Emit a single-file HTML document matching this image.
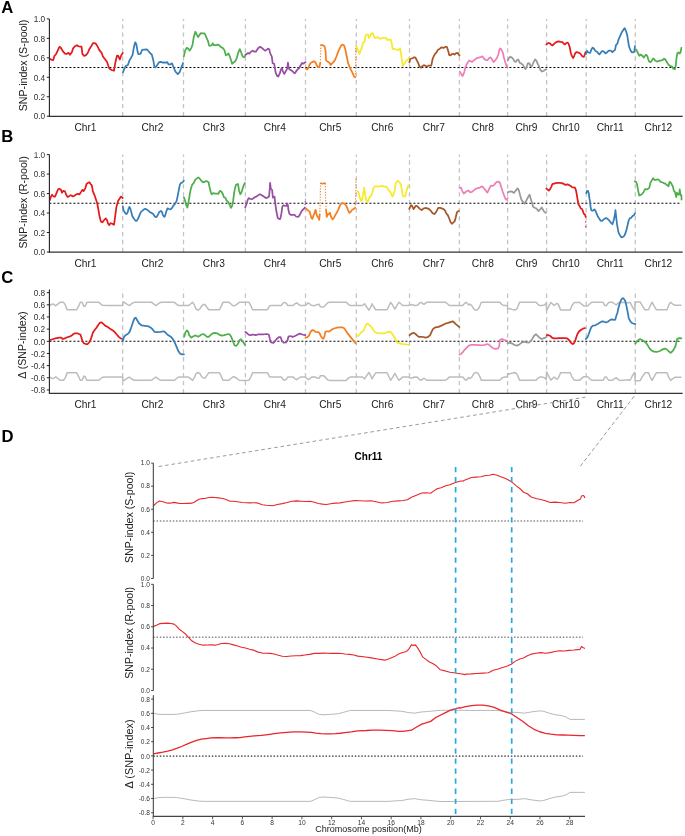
<!DOCTYPE html><html><head><meta charset="utf-8"><style>html,body{margin:0;padding:0;background:#fff;}svg{display:block;will-change:transform;}</style></head><body>
<svg width="685" height="836" viewBox="0 0 685 836" font-family='"Liberation Sans", sans-serif'>
<rect width="685" height="836" fill="#fff"/>
<line x1="122.7" y1="116.3" x2="122.7" y2="18.9" stroke="#C4C4C4" stroke-width="1.3" stroke-dasharray="4.4,3.55"/>
<line x1="183.5" y1="116.3" x2="183.5" y2="18.9" stroke="#C4C4C4" stroke-width="1.3" stroke-dasharray="4.4,3.55"/>
<line x1="245.4" y1="116.3" x2="245.4" y2="18.9" stroke="#C4C4C4" stroke-width="1.3" stroke-dasharray="4.4,3.55"/>
<line x1="305.5" y1="116.3" x2="305.5" y2="18.9" stroke="#C4C4C4" stroke-width="1.3" stroke-dasharray="4.4,3.55"/>
<line x1="356.3" y1="116.3" x2="356.3" y2="18.9" stroke="#C4C4C4" stroke-width="1.3" stroke-dasharray="4.4,3.55"/>
<line x1="409.5" y1="116.3" x2="409.5" y2="18.9" stroke="#C4C4C4" stroke-width="1.3" stroke-dasharray="4.4,3.55"/>
<line x1="459.4" y1="116.3" x2="459.4" y2="18.9" stroke="#C4C4C4" stroke-width="1.3" stroke-dasharray="4.4,3.55"/>
<line x1="507.6" y1="116.3" x2="507.6" y2="18.9" stroke="#C4C4C4" stroke-width="1.3" stroke-dasharray="4.4,3.55"/>
<line x1="546.6" y1="116.3" x2="546.6" y2="18.9" stroke="#C4C4C4" stroke-width="1.3" stroke-dasharray="4.4,3.55"/>
<line x1="586.2" y1="116.3" x2="586.2" y2="18.9" stroke="#C4C4C4" stroke-width="1.3" stroke-dasharray="4.4,3.55"/>
<line x1="635.3" y1="116.3" x2="635.3" y2="18.9" stroke="#C4C4C4" stroke-width="1.3" stroke-dasharray="4.4,3.55"/>
<line x1="49.4" y1="67.55" x2="681.5" y2="67.55" stroke="#000" stroke-width="1.1" stroke-dasharray="2,2"/>
<polyline points="49.75,58.87 51.50,59.80 53.26,60.04 54.42,55.95 56.18,53.96 57.93,50.11 59.45,46.84 60.85,47.77 62.60,50.93 64.93,53.61 66.69,53.96 68.44,52.80 69.96,54.78 71.94,52.09 73.11,48.36 74.86,46.26 76.96,45.20 78.36,46.26 80.12,46.61 81.52,46.61 82.45,54.20 84.20,55.95 85.96,55.13 87.71,53.03 89.46,48.94 91.21,46.26 92.96,43.10 94.72,43.10 95.88,43.69 97.64,46.61 99.39,50.11 101.72,53.03 102.89,56.53 105.23,59.45 106.98,61.79 108.15,65.29 109.31,68.45 111.65,69.96 113.99,70.78 115.15,63.54 116.91,55.95 118.07,55.60 119.82,59.45 120.99,55.95 122.74,52.80" fill="none" stroke="#E41A1C" stroke-width="1.75" stroke-linejoin="round" stroke-linecap="round"/>
<polyline points="122.92,72.30 124.09,69.38 125.84,66.11 127.94,64.94 129.34,60.62 131.09,57.70 132.61,54.78 133.78,47.77 135.18,42.28 136.35,44.27 137.52,51.28 138.45,54.20 140.44,53.96 142.19,49.76 144.53,49.53 146.86,49.29 148.61,51.28 150.13,53.26 151.77,54.43 153.28,60.04 154.45,67.04 155.62,67.28 157.37,64.71 159.12,62.14 160.88,61.79 162.63,62.61 164.38,62.37 166.13,62.61 167.30,62.14 168.47,64.47 170.22,64.47 171.97,63.31 173.72,67.63 175.47,71.72 177.81,74.05 179.56,72.30 181.31,67.63 183.07,62.96" fill="none" stroke="#377EB8" stroke-width="1.75" stroke-linejoin="round" stroke-linecap="round"/>
<polyline points="183.88,56.28 185.11,50.66 186.64,47.80 188.18,48.61 189.71,50.66 191.24,48.10 192.47,45.04 193.80,36.86 195.33,31.75 196.86,34.82 198.19,37.17 199.42,34.82 200.95,33.08 202.69,33.49 204.53,33.28 205.55,35.33 206.77,38.39 208.10,41.46 209.12,45.55 210.66,45.75 211.88,45.04 212.70,43.30 213.72,45.04 215.77,45.04 217.81,44.53 219.34,45.34 220.88,47.08 222.92,48.10 224.45,50.15 225.78,55.26 227.01,54.74 228.54,53.52 229.56,55.77 230.89,59.85 232.12,63.74 233.65,62.41 235.18,61.39 236.72,58.32 238.25,52.70 239.78,49.12 241.11,52.19 242.54,56.28 243.87,57.30 244.89,56.28" fill="none" stroke="#4DAF4A" stroke-width="1.75" stroke-linejoin="round" stroke-linecap="round"/>
<polyline points="245.25,55.04 246.58,54.01 248.11,52.99 249.34,53.71 250.66,51.97 252.71,50.64 254.24,51.66 255.77,51.66 257.31,49.42 258.84,47.58 260.17,46.86 261.91,47.88 263.44,49.42 264.97,50.64 266.50,49.93 268.04,48.60 269.36,49.42 269.77,51.97 270.59,54.01 271.82,56.57 272.64,63.21 274.17,63.72 274.88,67.81 275.70,72.92 277.23,75.99 278.26,76.50 279.79,73.43 280.81,69.85 281.83,68.01 282.85,71.39 284.39,73.94 285.92,70.88 287.15,68.83 287.96,62.70 288.78,68.32 290.21,69.85 292.05,70.88 293.58,72.41 294.61,73.43 296.14,71.39 297.67,69.34 299.20,68.01 300.74,65.26 302.07,62.91 303.29,63.72 304.82,62.50 305.54,62.19" fill="none" stroke="#984EA3" stroke-width="1.75" stroke-linejoin="round" stroke-linecap="round"/>
<polyline points="305.93,68.54 307.15,69.56 308.38,68.03 309.40,64.96 310.73,62.92 312.26,62.10 313.80,61.39 315.33,62.10 316.35,64.45 317.88,67.01 319.42,67.21 320.23,62.92" fill="none" stroke="#F47F20" stroke-width="1.75" stroke-linejoin="round" stroke-linecap="round"/>
<polyline points="320.95,45.04 322.48,45.04 324.53,46.36 325.55,50.66 326.06,60.36 327.39,61.39 329.12,62.41 330.66,64.96 332.70,62.92 334.74,60.36 336.28,56.79 337.81,52.70 339.34,49.12 340.88,46.06 342.10,44.53 343.94,45.34 345.17,48.61 346.50,55.26 348.03,62.92 349.56,67.01 351.09,70.07 352.63,73.14 354.16,76.72 355.18,77.23" fill="none" stroke="#F47F20" stroke-width="1.75" stroke-linejoin="round" stroke-linecap="round"/>
<polyline points="320.23,62.92 320.64,53.72 320.95,45.04" fill="none" stroke="#F47F20" stroke-width="1.1" stroke-dasharray="1.2,1.6"/>
<polyline points="355.18,77.23 355.69,69.05 355.69,58.83 355.69,45.55" fill="none" stroke="#F47F20" stroke-width="1.1" stroke-dasharray="1.2,1.6"/>
<polyline points="356.31,46.09 357.63,49.16 359.38,53.98 360.69,50.47 362.01,47.41 362.88,43.03 364.64,41.72 365.51,35.58 366.39,34.45 368.14,34.71 369.01,37.95 370.33,36.02 371.20,33.83 372.52,32.96 373.39,34.71 374.45,37.77 375.58,38.21 377.34,36.90 379.09,38.21 380.84,38.82 382.15,37.95 383.91,37.95 386.09,37.95 387.41,40.23 388.72,39.53 390.91,39.96 391.79,43.91 392.66,49.16 394.42,48.72 396.61,49.60 398.36,50.04 400.11,48.28 400.99,53.54 401.86,59.67 402.74,65.80 404.05,64.05 405.36,62.30 406.68,60.11 407.99,59.67 408.87,57.92" fill="none" stroke="#F6EA2C" stroke-width="1.75" stroke-linejoin="round" stroke-linecap="round"/>
<polyline points="409.38,62.48 410.26,58.98 411.57,58.54 412.88,58.10 414.20,57.23 415.51,57.66 416.82,60.29 418.14,62.92 419.45,66.42 421.20,67.74 422.52,65.99 424.27,65.11 425.58,65.99 426.90,66.42 428.21,65.72 429.96,65.55 431.28,65.55 432.59,58.98 433.91,55.91 435.22,53.72 436.53,52.41 437.85,49.78 439.60,48.91 441.35,47.33 443.54,47.85 445.73,46.72 447.04,47.15 448.36,51.53 449.23,55.04 450.55,55.47 451.86,54.16 453.18,53.72 454.49,54.60 455.80,53.28 457.55,52.85 458.87,54.60 459.48,55.47" fill="none" stroke="#A65628" stroke-width="1.75" stroke-linejoin="round" stroke-linecap="round"/>
<polyline points="459.82,71.61 461.13,73.80 462.45,75.99 463.32,74.67 464.46,71.17 465.51,66.79 466.82,64.16 468.14,61.97 469.19,60.48 470.33,61.09 472.08,61.97 473.39,60.66 475.15,59.34 476.90,58.03 478.65,57.59 480.40,57.15 482.59,56.45 483.91,58.47 485.66,59.96 487.41,60.22 488.72,58.47 490.04,57.33 491.35,58.20 492.66,60.66 493.72,61.97 495.29,60.22 496.87,58.03 498.36,54.53 499.23,50.15 500.11,48.39 501.42,49.71 502.74,52.34 504.05,58.03 505.36,62.41 506.68,66.79" fill="none" stroke="#EE7EB9" stroke-width="1.75" stroke-linejoin="round" stroke-linecap="round"/>
<polyline points="507.71,60.58 508.76,58.39 510.34,56.64 511.82,57.52 513.14,58.83 514.45,61.46 515.77,61.90 517.08,59.97 518.39,59.71 519.71,62.77 521.46,63.65 522.95,64.96 524.53,68.20 525.58,69.08 526.72,66.28 528.03,63.21 529.34,63.47 530.66,66.28 531.97,65.84 533.72,61.90 535.04,59.45 536.35,60.58 537.66,63.65 539.24,66.72 540.29,69.78 542.04,71.53 543.80,70.66 545.11,69.78 546.25,69.34" fill="none" stroke="#999999" stroke-width="1.75" stroke-linejoin="round" stroke-linecap="round"/>
<polyline points="546.31,44.45 547.45,43.57 548.76,42.96 550.07,43.39 551.39,44.97 552.70,45.32 554.01,43.83 555.77,42.34 557.52,41.64 558.83,41.47 560.58,41.82 562.34,42.08 563.47,43.57 564.96,44.45 566.28,42.96 567.59,42.52 568.47,43.57 569.78,47.34 570.66,52.15 571.71,55.66 573.11,58.11 574.16,56.09 575.04,53.47 576.35,52.15 577.66,52.33 579.85,53.20 581.17,54.78 582.48,56.53 583.80,56.97 584.67,54.78 585.55,52.15" fill="none" stroke="#E41A1C" stroke-width="1.75" stroke-linejoin="round" stroke-linecap="round"/>
<polyline points="585.96,53.98 587.01,50.91 588.32,52.49 590.07,52.84 591.39,49.60 592.70,47.58 594.01,48.72 595.33,50.91 597.08,51.79 598.39,53.54 599.45,54.42 601.02,52.23 602.60,50.91 604.09,51.79 605.40,53.36 606.72,52.66 608.47,50.91 609.78,50.47 611.09,50.91 612.41,52.23 613.72,50.91 615.04,49.86 615.91,45.22 617.23,43.91 618.54,39.53 620.29,35.58 621.87,32.08 623.36,29.89 624.67,28.14 625.99,30.77 627.30,35.58 628.18,41.28 629.05,46.53 630.36,50.04 631.68,52.23 633.43,52.49 634.31,51.35 635.01,46.09" fill="none" stroke="#377EB8" stroke-width="1.75" stroke-linejoin="round" stroke-linecap="round"/>
<polyline points="636.02,49.45 637.23,51.46 638.43,54.27 639.47,55.72 640.44,54.43 641.64,55.23 642.85,56.28 643.81,57.64 644.85,56.04 646.06,54.67 647.26,56.04 648.07,58.69 649.11,61.50 650.47,62.30 651.68,60.69 653.12,58.45 654.09,58.93 655.05,60.53 656.50,61.34 657.70,61.50 658.91,60.85 660.11,60.53 661.47,60.29 662.92,59.89 664.12,58.69 665.33,59.49 666.53,61.50 667.74,63.50 668.94,65.35 670.55,65.91 672.15,66.72 673.36,68.72 674.96,69.12 675.77,65.51 676.57,57.48 677.37,53.07 678.58,52.50 679.78,53.47 680.58,52.26 681.39,47.85" fill="none" stroke="#4DAF4A" stroke-width="1.75" stroke-linejoin="round" stroke-linecap="round"/>
<line x1="49.4" y1="18.9" x2="49.4" y2="116.89999999999999" stroke="#222" stroke-width="1.1"/>
<line x1="48.9" y1="116.3" x2="682.7" y2="116.3" stroke="#333" stroke-width="1.2"/>
<line x1="46.8" y1="116.20" x2="49.4" y2="116.20" stroke="#222" stroke-width="1"/>
<text transform="translate(45.199999999999996,119.45) scale(1,1.12)" font-size="8.3" text-anchor="end" fill="#333">0.0</text>
<line x1="46.8" y1="96.74" x2="49.4" y2="96.74" stroke="#222" stroke-width="1"/>
<text transform="translate(45.199999999999996,99.99) scale(1,1.12)" font-size="8.3" text-anchor="end" fill="#333">0.2</text>
<line x1="46.8" y1="77.28" x2="49.4" y2="77.28" stroke="#222" stroke-width="1"/>
<text transform="translate(45.199999999999996,80.53) scale(1,1.12)" font-size="8.3" text-anchor="end" fill="#333">0.4</text>
<line x1="46.8" y1="57.82" x2="49.4" y2="57.82" stroke="#222" stroke-width="1"/>
<text transform="translate(45.199999999999996,61.07) scale(1,1.12)" font-size="8.3" text-anchor="end" fill="#333">0.6</text>
<line x1="46.8" y1="38.36" x2="49.4" y2="38.36" stroke="#222" stroke-width="1"/>
<text transform="translate(45.199999999999996,41.61) scale(1,1.12)" font-size="8.3" text-anchor="end" fill="#333">0.8</text>
<line x1="46.8" y1="18.90" x2="49.4" y2="18.90" stroke="#222" stroke-width="1"/>
<text transform="translate(45.199999999999996,22.15) scale(1,1.12)" font-size="8.3" text-anchor="end" fill="#333">1.0</text>
<text transform="translate(85.45,131.20) scale(1,1.07)" font-size="10.2" text-anchor="middle" fill="#222">Chr1</text>
<text transform="translate(152.50,131.20) scale(1,1.07)" font-size="10.2" text-anchor="middle" fill="#222">Chr2</text>
<text transform="translate(213.85,131.20) scale(1,1.07)" font-size="10.2" text-anchor="middle" fill="#222">Chr3</text>
<text transform="translate(274.85,131.20) scale(1,1.07)" font-size="10.2" text-anchor="middle" fill="#222">Chr4</text>
<text transform="translate(330.30,131.20) scale(1,1.07)" font-size="10.2" text-anchor="middle" fill="#222">Chr5</text>
<text transform="translate(382.30,131.20) scale(1,1.07)" font-size="10.2" text-anchor="middle" fill="#222">Chr6</text>
<text transform="translate(433.85,131.20) scale(1,1.07)" font-size="10.2" text-anchor="middle" fill="#222">Chr7</text>
<text transform="translate(482.90,131.20) scale(1,1.07)" font-size="10.2" text-anchor="middle" fill="#222">Chr8</text>
<text transform="translate(526.50,131.20) scale(1,1.07)" font-size="10.2" text-anchor="middle" fill="#222">Chr9</text>
<text transform="translate(565.80,131.20) scale(1,1.07)" font-size="10.2" text-anchor="middle" fill="#222">Chr10</text>
<text transform="translate(610.15,131.20) scale(1,1.07)" font-size="10.2" text-anchor="middle" fill="#222">Chr11</text>
<text transform="translate(658.40,131.20) scale(1,1.07)" font-size="10.2" text-anchor="middle" fill="#222">Chr12</text>
<text transform="translate(26.9,65.45) rotate(-90)" x="0" y="0" font-size="10.65" text-anchor="middle" fill="#222">SNP-index (S-pool)</text>
<text transform="translate(1.3,13.0) scale(0.98,1)" font-size="17" font-weight="bold" fill="#000">A</text>
<line x1="122.7" y1="252.2" x2="122.7" y2="154.6" stroke="#C4C4C4" stroke-width="1.3" stroke-dasharray="4.4,3.55"/>
<line x1="183.5" y1="252.2" x2="183.5" y2="154.6" stroke="#C4C4C4" stroke-width="1.3" stroke-dasharray="4.4,3.55"/>
<line x1="245.4" y1="252.2" x2="245.4" y2="154.6" stroke="#C4C4C4" stroke-width="1.3" stroke-dasharray="4.4,3.55"/>
<line x1="305.5" y1="252.2" x2="305.5" y2="154.6" stroke="#C4C4C4" stroke-width="1.3" stroke-dasharray="4.4,3.55"/>
<line x1="356.3" y1="252.2" x2="356.3" y2="154.6" stroke="#C4C4C4" stroke-width="1.3" stroke-dasharray="4.4,3.55"/>
<line x1="409.5" y1="252.2" x2="409.5" y2="154.6" stroke="#C4C4C4" stroke-width="1.3" stroke-dasharray="4.4,3.55"/>
<line x1="459.4" y1="252.2" x2="459.4" y2="154.6" stroke="#C4C4C4" stroke-width="1.3" stroke-dasharray="4.4,3.55"/>
<line x1="507.6" y1="252.2" x2="507.6" y2="154.6" stroke="#C4C4C4" stroke-width="1.3" stroke-dasharray="4.4,3.55"/>
<line x1="546.6" y1="252.2" x2="546.6" y2="154.6" stroke="#C4C4C4" stroke-width="1.3" stroke-dasharray="4.4,3.55"/>
<line x1="586.2" y1="252.2" x2="586.2" y2="154.6" stroke="#C4C4C4" stroke-width="1.3" stroke-dasharray="4.4,3.55"/>
<line x1="635.3" y1="252.2" x2="635.3" y2="154.6" stroke="#C4C4C4" stroke-width="1.3" stroke-dasharray="4.4,3.55"/>
<line x1="49.4" y1="203.30" x2="681.5" y2="203.30" stroke="#000" stroke-width="1.1" stroke-dasharray="2,2"/>
<polyline points="49.75,200.13 50.92,196.63 52.09,194.76 53.26,196.28 55.01,196.63 56.41,193.36 57.93,189.62 59.09,188.69 60.85,189.62 62.01,192.77 63.42,190.79 64.93,191.26 66.10,194.53 67.62,197.09 69.02,196.28 70.77,195.11 72.53,196.28 74.28,195.93 76.03,194.53 77.78,193.94 79.53,194.29 81.28,191.61 82.45,189.85 83.62,191.02 85.37,188.10 86.54,184.01 88.29,182.61 89.46,182.26 90.63,184.01 91.80,185.42 92.96,191.61 94.72,195.69 95.88,199.20 97.05,202.70 98.22,208.54 99.39,215.55 100.79,221.39 102.31,222.32 104.06,220.22 105.81,218.47 106.98,219.99 108.15,223.72 109.31,225.12 110.48,223.14 112.23,223.72 113.99,224.89 115.15,216.72 116.32,207.37 118.07,200.95 119.82,198.26 120.99,196.63 122.74,198.03" fill="none" stroke="#E41A1C" stroke-width="1.75" stroke-linejoin="round" stroke-linecap="round"/>
<polyline points="122.86,206.28 123.58,210.36 125.11,212.92 126.34,214.15 127.66,212.41 128.69,208.32 129.40,206.79 130.22,208.32 131.24,211.90 132.26,215.99 133.80,218.54 135.33,220.58 136.55,220.89 137.88,219.05 139.42,215.47 140.95,211.90 142.48,210.67 144.01,209.34 145.34,208.83 147.08,209.85 148.61,210.88 150.15,212.41 151.68,212.92 153.21,213.94 154.74,216.50 156.28,217.21 157.81,214.96 159.34,211.90 160.88,210.88 161.90,211.90 162.92,214.96 164.15,216.80 165.17,215.78 166.19,211.90 167.52,208.32 169.05,209.04 170.58,209.34 172.12,207.81 173.65,205.26 175.18,203.72 176.72,200.66 177.74,195.55 178.76,190.44 179.78,184.82 180.80,183.08 182.34,182.47 183.87,180.73" fill="none" stroke="#377EB8" stroke-width="1.75" stroke-linejoin="round" stroke-linecap="round"/>
<polyline points="183.88,197.30 185.11,200.88 186.34,205.47 187.36,207.52 188.38,202.92 189.71,194.74 190.73,189.12 192.26,184.53 193.80,182.99 195.12,179.93 196.86,178.39 198.39,177.37 199.93,178.91 201.46,180.95 202.99,182.28 204.53,181.97 206.06,180.95 207.59,181.66 208.61,182.28 209.64,187.59 210.66,191.68 211.68,194.23 213.21,193.21 215.26,193.52 216.79,193.52 218.32,193.93 219.85,190.86 221.39,191.47 222.92,194.23 223.94,197.30 225.47,198.01 226.50,200.36 228.03,201.90 229.56,204.45 230.89,207.82 232.12,205.99 233.14,200.88 234.16,192.70 235.18,187.39 236.20,184.53 238.04,184.01 239.07,190.66 240.29,194.23 241.31,192.70 242.54,189.12 243.56,185.55 244.89,182.99" fill="none" stroke="#4DAF4A" stroke-width="1.75" stroke-linejoin="round" stroke-linecap="round"/>
<polyline points="245.25,207.30 246.58,203.72 247.60,200.15 248.62,198.10 250.15,198.82 252.20,199.12 253.73,198.10 255.26,197.08 256.80,196.36 258.33,195.04 259.86,194.32 261.39,195.04 262.93,196.06 264.46,197.08 265.99,198.10 267.53,197.59 269.06,196.57 269.77,188.91 270.08,182.77 270.80,188.91 272.12,189.93 272.84,197.59 273.66,197.08 274.47,196.57 275.19,202.70 276.21,210.36 277.74,218.03 279.28,219.05 280.30,218.85 281.32,213.94 282.34,206.79 283.36,205.26 284.90,205.77 286.43,205.77 287.45,203.72 287.96,205.77 288.47,210.36 289.50,213.94 291.03,214.96 293.07,214.76 294.61,214.96 296.14,216.50 297.67,216.80 298.69,216.50 300.23,213.94 301.76,210.88 303.29,209.34 304.82,207.81" fill="none" stroke="#984EA3" stroke-width="1.75" stroke-linejoin="round" stroke-linecap="round"/>
<polyline points="304.82,207.81 305.54,198.61" fill="none" stroke="#984EA3" stroke-width="1.1" stroke-dasharray="1.2,1.6"/>
<polyline points="306.17,208.43 307.12,209.85 308.54,210.80 309.49,211.28 310.44,214.60 311.39,217.92 312.34,218.87 313.47,215.55 314.23,213.84 315.18,210.80 315.66,209.85 316.32,213.65 317.27,216.50 318.50,217.92 319.17,219.82 319.74,214.60" fill="none" stroke="#F47F20" stroke-width="1.75" stroke-linejoin="round" stroke-linecap="round"/>
<polyline points="320.69,183.28 322.30,183.76 323.72,183.28 325.15,183.28" fill="none" stroke="#F47F20" stroke-width="1.75" stroke-linejoin="round" stroke-linecap="round"/>
<polyline points="326.09,209.85 326.76,216.97 327.52,214.12 328.47,214.60 329.89,212.70 330.55,215.07 331.50,217.92 332.74,219.34 334.16,217.45 335.58,214.60 337.01,212.23 338.43,209.38 339.85,205.58 341.28,203.40 343.18,203.21 344.60,203.69 346.50,206.06 347.92,209.85 349.34,212.89 350.77,211.75 352.19,209.85 353.61,209.09 355.04,207.96" fill="none" stroke="#F47F20" stroke-width="1.75" stroke-linejoin="round" stroke-linecap="round"/>
<polyline points="319.74,214.60 320.12,204.16 320.40,188.98 320.69,183.28" fill="none" stroke="#F47F20" stroke-width="1.1" stroke-dasharray="1.2,1.6"/>
<polyline points="325.15,183.28 325.43,188.98 325.62,201.31 326.09,209.85" fill="none" stroke="#F47F20" stroke-width="1.1" stroke-dasharray="1.2,1.6"/>
<polyline points="355.04,207.96 355.51,201.31 355.80,190.88 355.99,178.54" fill="none" stroke="#F47F20" stroke-width="1.1" stroke-dasharray="1.2,1.6"/>
<polyline points="357.45,191.28 358.50,192.15 359.55,196.53 360.96,200.91 362.01,200.04 363.32,193.03 364.20,187.60 365.07,193.91 366.21,200.47 367.44,202.23 368.58,199.60 369.72,196.71 370.94,196.09 372.08,193.03 373.39,188.47 374.71,186.46 376.46,186.46 378.21,186.72 379.96,186.46 381.72,185.85 383.03,186.20 384.78,186.72 386.53,186.72 387.85,189.09 389.60,191.28 391.09,193.47 392.49,196.53 393.54,194.78 394.85,189.96 395.73,183.39 397.04,181.20 398.36,180.94 399.67,182.52 400.99,184.71 401.86,190.40 402.74,195.66 404.05,196.53 405.36,196.09 406.24,192.15 407.38,187.77 408.61,185.15" fill="none" stroke="#F6EA2C" stroke-width="1.75" stroke-linejoin="round" stroke-linecap="round"/>
<polyline points="409.20,208.83 410.08,207.08 411.13,205.07 412.18,206.20 413.58,209.09 414.64,207.52 415.69,205.94 416.82,205.77 418.14,207.08 419.89,208.83 421.64,210.15 423.39,208.57 425.15,207.96 427.34,208.39 429.09,209.09 430.84,210.85 432.59,213.21 434.34,214.09 435.66,212.60 436.97,210.32 438.28,207.96 440.04,207.96 441.79,208.39 443.54,209.09 445.12,210.58 446.17,213.21 447.92,215.40 449.23,218.47 450.55,221.97 451.86,223.72 453.18,222.58 454.75,221.09 455.80,217.15 456.68,213.21 457.55,211.46 458.87,211.02" fill="none" stroke="#A65628" stroke-width="1.75" stroke-linejoin="round" stroke-linecap="round"/>
<polyline points="459.82,187.60 461.13,187.95 462.18,190.84 463.76,193.47 465.07,192.59 466.39,191.28 468.14,190.58 469.19,191.10 470.33,192.59 472.08,191.72 473.83,190.40 475.58,188.82 477.34,188.21 479.09,187.95 480.84,186.90 482.59,186.46 483.91,188.21 485.66,190.40 487.41,192.59 488.72,189.96 490.04,187.07 490.91,185.58 492.66,185.85 493.98,185.15 495.29,183.39 496.87,181.82 498.80,181.64 500.11,183.39 501.42,187.77 502.74,191.72 504.05,195.22 505.36,198.72 506.68,199.86 507.73,198.28" fill="none" stroke="#EE7EB9" stroke-width="1.75" stroke-linejoin="round" stroke-linecap="round"/>
<polyline points="507.71,192.34 508.76,191.90 510.51,191.46 512.26,191.72 514.01,192.95 515.33,191.02 516.20,190.15 517.52,188.39 518.83,190.15 520.15,195.40 521.46,199.78 522.95,201.71 524.53,203.72 525.84,201.53 527.15,198.91 528.47,196.28 529.61,194.70 530.66,198.47 531.97,202.85 533.11,206.79 534.60,207.66 536.35,208.54 538.54,211.17 540.29,209.24 541.61,207.49 542.92,209.42 544.23,211.87 545.99,212.92" fill="none" stroke="#999999" stroke-width="1.75" stroke-linejoin="round" stroke-linecap="round"/>
<polyline points="546.31,188.57 547.45,189.45 548.76,190.58 550.07,189.09 551.21,187.08 552.26,184.19 554.01,183.58 555.77,183.14 557.52,182.79 559.71,182.96 561.90,183.14 563.65,183.84 565.40,184.89 567.15,184.45 568.91,184.89 570.66,185.94 571.97,187.08 573.72,187.52 575.04,187.69 575.91,190.15 576.79,194.53 577.66,199.78 578.54,204.60 579.85,206.35 580.73,208.54 582.04,208.98 582.92,211.17 583.80,213.80 585.11,214.67 585.55,216.42" fill="none" stroke="#E41A1C" stroke-width="1.75" stroke-linejoin="round" stroke-linecap="round"/>
<polyline points="586.31,193.14 587.01,190.95 588.06,190.95 588.76,193.14 589.46,198.39 590.07,201.90 590.51,206.28 591.21,210.22 592.26,210.83 593.58,210.22 594.45,209.34 595.59,211.09 596.64,213.72 597.96,216.79 599.27,218.54 600.58,220.73 601.90,220.99 603.21,219.85 604.96,218.36 606.28,218.10 608.03,219.24 609.78,221.17 611.09,222.92 612.41,224.23 613.72,220.29 614.86,215.04 615.47,210.22 616.35,218.54 617.23,225.55 618.54,232.55 619.85,235.18 621.61,237.37 623.36,236.76 624.67,235.18 625.99,231.68 627.30,226.42 628.61,220.73 629.93,218.10 631.24,217.84 632.55,215.91 633.87,215.47 635.01,213.11" fill="none" stroke="#377EB8" stroke-width="1.75" stroke-linejoin="round" stroke-linecap="round"/>
<polyline points="634.82,181.46 636.02,181.86 637.07,184.27 638.03,189.89 639.23,195.51 640.44,195.11 642.04,194.07 643.65,191.90 645.26,188.93 646.46,189.49 647.66,189.09 649.27,187.88 650.47,182.66 651.68,180.66 653.12,178.25 654.49,179.85 656.09,179.85 657.70,179.29 659.31,180.26 660.51,181.86 662.12,182.26 663.72,183.07 665.33,183.63 666.93,185.07 668.54,186.28 669.50,181.86 670.55,182.26 671.75,184.27 672.96,186.68 673.76,190.69 674.96,191.90 676.17,197.12 676.97,192.70 678.18,194.71 679.14,194.31 679.78,189.49 680.42,195.11 681.39,195.11 681.55,199.53" fill="none" stroke="#4DAF4A" stroke-width="1.75" stroke-linejoin="round" stroke-linecap="round"/>
<polyline points="585.64,216.42 585.72,230.44" fill="none" stroke="#E41A1C" stroke-width="1.2" stroke-dasharray="1.3,3.5"/>
<line x1="49.4" y1="154.6" x2="49.4" y2="252.79999999999998" stroke="#222" stroke-width="1.1"/>
<line x1="48.9" y1="252.2" x2="682.7" y2="252.2" stroke="#333" stroke-width="1.2"/>
<line x1="46.8" y1="252.00" x2="49.4" y2="252.00" stroke="#222" stroke-width="1"/>
<text transform="translate(45.199999999999996,255.25) scale(1,1.12)" font-size="8.3" text-anchor="end" fill="#333">0.0</text>
<line x1="46.8" y1="232.52" x2="49.4" y2="232.52" stroke="#222" stroke-width="1"/>
<text transform="translate(45.199999999999996,235.77) scale(1,1.12)" font-size="8.3" text-anchor="end" fill="#333">0.2</text>
<line x1="46.8" y1="213.04" x2="49.4" y2="213.04" stroke="#222" stroke-width="1"/>
<text transform="translate(45.199999999999996,216.29) scale(1,1.12)" font-size="8.3" text-anchor="end" fill="#333">0.4</text>
<line x1="46.8" y1="193.56" x2="49.4" y2="193.56" stroke="#222" stroke-width="1"/>
<text transform="translate(45.199999999999996,196.81) scale(1,1.12)" font-size="8.3" text-anchor="end" fill="#333">0.6</text>
<line x1="46.8" y1="174.08" x2="49.4" y2="174.08" stroke="#222" stroke-width="1"/>
<text transform="translate(45.199999999999996,177.33) scale(1,1.12)" font-size="8.3" text-anchor="end" fill="#333">0.8</text>
<line x1="46.8" y1="154.60" x2="49.4" y2="154.60" stroke="#222" stroke-width="1"/>
<text transform="translate(45.199999999999996,157.85) scale(1,1.12)" font-size="8.3" text-anchor="end" fill="#333">1.0</text>
<text transform="translate(85.45,267.10) scale(1,1.07)" font-size="10.2" text-anchor="middle" fill="#222">Chr1</text>
<text transform="translate(152.50,267.10) scale(1,1.07)" font-size="10.2" text-anchor="middle" fill="#222">Chr2</text>
<text transform="translate(213.85,267.10) scale(1,1.07)" font-size="10.2" text-anchor="middle" fill="#222">Chr3</text>
<text transform="translate(274.85,267.10) scale(1,1.07)" font-size="10.2" text-anchor="middle" fill="#222">Chr4</text>
<text transform="translate(330.30,267.10) scale(1,1.07)" font-size="10.2" text-anchor="middle" fill="#222">Chr5</text>
<text transform="translate(382.30,267.10) scale(1,1.07)" font-size="10.2" text-anchor="middle" fill="#222">Chr6</text>
<text transform="translate(433.85,267.10) scale(1,1.07)" font-size="10.2" text-anchor="middle" fill="#222">Chr7</text>
<text transform="translate(482.90,267.10) scale(1,1.07)" font-size="10.2" text-anchor="middle" fill="#222">Chr8</text>
<text transform="translate(526.50,267.10) scale(1,1.07)" font-size="10.2" text-anchor="middle" fill="#222">Chr9</text>
<text transform="translate(565.80,267.10) scale(1,1.07)" font-size="10.2" text-anchor="middle" fill="#222">Chr10</text>
<text transform="translate(610.15,267.10) scale(1,1.07)" font-size="10.2" text-anchor="middle" fill="#222">Chr11</text>
<text transform="translate(658.40,267.10) scale(1,1.07)" font-size="10.2" text-anchor="middle" fill="#222">Chr12</text>
<text transform="translate(27.1,202.4) rotate(-90)" x="0" y="0" font-size="10.65" text-anchor="middle" fill="#222">SNP-index (R-pool)</text>
<text transform="translate(1.3,142.0) scale(0.98,1)" font-size="17" font-weight="bold" fill="#000">B</text>
<rect x="26" y="145" width="19.5" height="7.3" fill="#fff"/>
<line x1="122.7" y1="393.3" x2="122.7" y2="289.4" stroke="#C4C4C4" stroke-width="1.3" stroke-dasharray="4.4,3.55"/>
<line x1="183.5" y1="393.3" x2="183.5" y2="289.4" stroke="#C4C4C4" stroke-width="1.3" stroke-dasharray="4.4,3.55"/>
<line x1="245.4" y1="393.3" x2="245.4" y2="289.4" stroke="#C4C4C4" stroke-width="1.3" stroke-dasharray="4.4,3.55"/>
<line x1="305.5" y1="393.3" x2="305.5" y2="289.4" stroke="#C4C4C4" stroke-width="1.3" stroke-dasharray="4.4,3.55"/>
<line x1="356.3" y1="393.3" x2="356.3" y2="289.4" stroke="#C4C4C4" stroke-width="1.3" stroke-dasharray="4.4,3.55"/>
<line x1="409.5" y1="393.3" x2="409.5" y2="289.4" stroke="#C4C4C4" stroke-width="1.3" stroke-dasharray="4.4,3.55"/>
<line x1="459.4" y1="393.3" x2="459.4" y2="289.4" stroke="#C4C4C4" stroke-width="1.3" stroke-dasharray="4.4,3.55"/>
<line x1="507.6" y1="393.3" x2="507.6" y2="289.4" stroke="#C4C4C4" stroke-width="1.3" stroke-dasharray="4.4,3.55"/>
<line x1="546.6" y1="393.3" x2="546.6" y2="289.4" stroke="#C4C4C4" stroke-width="1.3" stroke-dasharray="4.4,3.55"/>
<line x1="586.2" y1="393.3" x2="586.2" y2="289.4" stroke="#C4C4C4" stroke-width="1.3" stroke-dasharray="4.4,3.55"/>
<line x1="635.3" y1="393.3" x2="635.3" y2="289.4" stroke="#C4C4C4" stroke-width="1.3" stroke-dasharray="4.4,3.55"/>
<polyline points="49.79,305.55 51.59,304.35 53.38,304.11 55.77,305.78 57.57,304.35 59.96,302.32 63.55,302.32 65.34,304.95 67.13,309.73 76.70,309.73 78.85,305.55 80.29,302.32 82.08,302.32 83.87,306.50 85.07,306.14 86.86,302.32 98.82,302.32 102.41,305.31 107.19,305.55 114.97,305.55 122.38,305.55 122.63,305.55 122.99,301.96 124.78,302.56 127.17,304.35 129.57,305.55 131.96,303.39 134.35,302.32 151.69,302.32 154.08,304.35 155.87,305.55 158.27,303.75 160.66,302.32 174.41,302.32 176.80,304.35 178.59,305.55 183.38,305.55 188.37,305.55 190.76,303.75 192.56,302.20 194.35,304.95 196.14,309.13 197.94,310.09 199.73,309.13 201.52,306.14 203.32,304.59 205.11,304.59 206.55,306.74 208.70,309.73 219.46,309.73 221.26,306.14 223.05,302.32 229.03,302.32 232.62,305.55 234.41,305.78 236.80,304.35 239.19,302.32 245.17,302.20 248.97,302.32 250.76,305.55 252.56,309.73 267.50,309.73 269.30,306.14 270.49,305.55 281.26,305.55 283.05,303.15 284.84,302.32 286.64,303.75 287.83,305.55 293.21,305.55 295.01,303.75 296.80,302.91 298.59,304.35 300.39,305.55 305.17,305.55 306.58,304.35 308.37,302.91 309.57,303.75 311.36,305.31 313.75,305.78 315.55,305.31 317.94,304.35 319.37,304.59 320.33,306.74 322.12,306.98 323.92,306.74 325.71,304.95 327.50,302.91 329.30,302.20 346.04,302.20 347.23,303.15 349.03,304.95 350.22,305.55 355.96,305.55 362.56,305.55 364.59,303.75 366.50,306.74 368.89,310.09 370.57,307.34 372.12,303.75 373.68,306.74 375.71,309.73 387.07,309.73 388.86,306.14 390.66,302.32 392.45,304.95 394.84,309.13 397.23,304.95 399.03,302.32 400.82,303.75 402.62,305.55 408.83,305.55 409.19,304.95 412.17,304.59 414.57,305.55 417.56,305.31 419.35,303.15 421.14,302.32 422.94,303.75 424.13,304.35 426.52,302.32 445.66,302.32 447.45,303.75 449.25,305.55 459.41,305.55 462.77,305.55 464.57,303.39 466.00,302.32 467.56,303.75 468.75,304.95 469.95,304.11 471.74,305.55 473.54,308.54 475.33,310.09 477.72,309.73 479.51,306.74 481.31,302.32 499.84,302.32 501.64,304.35 504.03,305.55 507.38,305.55 507.62,309.13 509.41,308.54 511.80,309.37 514.79,310.09 516.58,309.13 517.78,306.74 519.57,302.32 536.09,302.32 537.88,304.35 539.68,305.55 542.07,305.55 544.46,304.95 546.26,303.15 546.57,310.77 547.88,308.14 549.64,304.64 550.95,302.45 552.26,303.76 554.01,305.51 555.77,304.20 557.08,303.32 558.39,304.64 560.58,309.89 570.22,309.89 571.97,305.51 574.16,302.45 579.85,302.45 581.61,304.20 583.80,305.95 585.55,305.95 587.74,305.95 588.10,305.55 589.90,303.75 591.69,302.32 603.05,302.32 604.84,305.55 606.40,305.55 607.83,303.39 609.03,302.32 612.62,302.32 614.41,303.75 616.20,304.95 618.00,303.15 620.39,302.20 625.77,302.56 628.16,302.91 629.96,302.20 631.15,304.35 632.94,307.94 634.74,310.33 635.10,301.97 640.13,301.97 642.52,306.15 644.91,309.74 648.50,309.74 650.30,305.56 652.09,302.21 653.89,305.56 656.28,309.74 667.05,309.74 668.85,304.96 670.64,302.21 672.44,303.76 674.83,305.32 681.41,305.32" fill="none" stroke="#BDBDBD" stroke-width="1.5" stroke-linejoin="round"/>
<polyline points="49.79,377.05 51.59,378.25 53.38,378.49 55.77,376.82 57.57,378.25 59.96,380.28 63.55,380.28 65.34,377.65 67.13,372.87 76.70,372.87 78.85,377.05 80.29,380.28 82.08,380.28 83.87,376.10 85.07,376.46 86.86,380.28 98.82,380.28 102.41,377.29 107.19,377.05 114.97,377.05 122.38,377.05 122.63,377.05 122.99,380.64 124.78,380.04 127.17,378.25 129.57,377.05 131.96,379.21 134.35,380.28 151.69,380.28 154.08,378.25 155.87,377.05 158.27,378.85 160.66,380.28 174.41,380.28 176.80,378.25 178.59,377.05 183.38,377.05 188.37,377.05 190.76,378.85 192.56,380.40 194.35,377.65 196.14,373.47 197.94,372.51 199.73,373.47 201.52,376.46 203.32,378.01 205.11,378.01 206.55,375.86 208.70,372.87 219.46,372.87 221.26,376.46 223.05,380.28 229.03,380.28 232.62,377.05 234.41,376.82 236.80,378.25 239.19,380.28 245.17,380.40 248.97,380.28 250.76,377.05 252.56,372.87 267.50,372.87 269.30,376.46 270.49,377.05 281.26,377.05 283.05,379.45 284.84,380.28 286.64,378.85 287.83,377.05 293.21,377.05 295.01,378.85 296.80,379.69 298.59,378.25 300.39,377.05 305.17,377.05 306.58,378.25 308.37,379.69 309.57,378.85 311.36,377.29 313.75,376.82 315.55,377.29 317.94,378.25 319.37,378.01 320.33,375.86 322.12,375.62 323.92,375.86 325.71,377.65 327.50,379.69 329.30,380.40 346.04,380.40 347.23,379.45 349.03,377.65 350.22,377.05 355.96,377.05 362.56,377.05 364.59,378.85 366.50,375.86 368.89,372.51 370.57,375.26 372.12,378.85 373.68,375.86 375.71,372.87 387.07,372.87 388.86,376.46 390.66,380.28 392.45,377.65 394.84,373.47 397.23,377.65 399.03,380.28 400.82,378.85 402.62,377.05 408.83,377.05 409.19,377.65 412.17,378.01 414.57,377.05 417.56,377.29 419.35,379.45 421.14,380.28 422.94,378.85 424.13,378.25 426.52,380.28 445.66,380.28 447.45,378.85 449.25,377.05 459.41,377.05 462.77,377.05 464.57,379.21 466.00,380.28 467.56,378.85 468.75,377.65 469.95,378.49 471.74,377.05 473.54,374.06 475.33,372.51 477.72,372.87 479.51,375.86 481.31,380.28 499.84,380.28 501.64,378.25 504.03,377.05 507.38,377.05 507.62,373.47 509.41,374.06 511.80,373.23 514.79,372.51 516.58,373.47 517.78,375.86 519.57,380.28 536.09,380.28 537.88,378.25 539.68,377.05 542.07,377.05 544.46,377.65 546.26,379.45 546.57,371.83 547.88,374.46 549.64,377.96 550.95,380.15 552.26,378.84 554.01,377.09 555.77,378.40 557.08,379.28 558.39,377.96 560.58,372.71 570.22,372.71 571.97,377.09 574.16,380.15 579.85,380.15 581.61,378.40 583.80,376.65 585.55,376.65 587.74,376.65 588.10,377.05 589.90,378.85 591.69,380.28 603.05,380.28 604.84,377.05 606.40,377.05 607.83,379.21 609.03,380.28 612.62,380.28 614.41,378.85 616.20,377.65 618.00,379.45 620.39,380.40 625.77,380.04 628.16,379.69 629.96,380.40 631.15,378.25 632.94,374.66 634.74,372.27 635.10,380.63 640.13,380.63 642.52,376.45 644.91,372.86 648.50,372.86 650.30,377.04 652.09,380.39 653.89,377.04 656.28,372.86 667.05,372.86 668.85,377.64 670.64,380.39 672.44,378.84 674.83,377.28 681.41,377.28" fill="none" stroke="#BDBDBD" stroke-width="1.5" stroke-linejoin="round"/>
<line x1="49.4" y1="341.30" x2="681.5" y2="341.30" stroke="#000" stroke-width="1.1" stroke-dasharray="2,2"/>
<polyline points="49.79,340.22 51.59,339.63 53.38,339.03 55.17,338.43 56.97,338.07 59.36,337.59 61.15,337.59 62.95,339.03 64.74,338.43 67.13,337.23 69.52,336.64 71.32,335.80 73.11,334.25 74.91,333.29 77.30,333.29 79.09,334.01 80.53,334.84 81.48,337.83 82.44,341.18 83.87,343.21 85.67,344.05 87.46,344.05 89.26,342.38 90.45,340.22 91.65,336.64 92.84,332.81 94.64,330.06 96.43,327.67 98.22,324.92 100.02,322.53 101.57,322.29 103.61,324.08 105.40,325.87 107.79,327.07 110.18,328.86 113.17,330.66 114.97,332.45 116.76,334.48 118.55,336.64 120.35,338.19 122.38,339.03" fill="none" stroke="#E41A1C" stroke-width="1.75" stroke-linejoin="round" stroke-linecap="round"/>
<polyline points="122.63,340.82 124.19,336.64 125.98,334.84 127.77,334.01 129.57,331.85 131.36,327.07 133.15,321.69 134.59,318.10 135.78,317.74 137.34,320.49 139.13,323.48 141.52,325.28 145.11,325.87 148.70,326.47 151.33,328.03 152.88,329.70 154.68,331.85 157.07,332.09 160.66,331.85 163.65,331.26 165.44,332.45 167.23,334.48 169.63,336.04 171.42,337.23 173.21,339.63 175.01,343.21 176.80,347.40 178.59,351.58 180.39,353.98 182.18,354.33 183.98,354.33" fill="none" stroke="#377EB8" stroke-width="1.75" stroke-linejoin="round" stroke-linecap="round"/>
<polyline points="184.19,336.64 185.38,332.45 186.94,330.42 188.13,331.61 189.33,335.44 191.36,337.59 193.15,336.40 194.95,335.44 196.74,336.04 198.18,336.64 199.73,335.68 201.52,334.48 203.32,334.01 205.11,335.20 206.91,336.88 208.70,336.88 210.49,335.20 212.29,333.65 214.68,332.81 217.07,333.29 219.46,334.84 221.85,335.68 224.25,335.20 226.64,334.48 229.03,334.01 230.82,336.04 232.62,340.22 234.41,345.25 236.20,345.96 238.00,343.81 239.79,339.99 240.99,339.27 242.78,341.42 245.17,345.25" fill="none" stroke="#4DAF4A" stroke-width="1.75" stroke-linejoin="round" stroke-linecap="round"/>
<polyline points="245.38,331.85 247.17,333.29 248.97,334.84 250.76,335.20 253.15,334.48 255.55,335.20 257.94,334.48 260.33,334.25 263.92,334.25 266.91,334.01 268.70,334.48 269.90,339.03 271.09,342.38 273.48,342.86 275.28,340.82 277.07,338.43 278.86,337.23 280.66,337.23 281.85,340.82 283.65,342.62 286.04,342.38 287.59,340.22 288.43,336.64 290.22,336.04 292.62,336.88 295.01,336.04 297.40,334.84 299.79,333.65 302.18,334.48 305.17,335.20" fill="none" stroke="#984EA3" stroke-width="1.75" stroke-linejoin="round" stroke-linecap="round"/>
<polyline points="305.38,337.83 307.17,337.23 308.97,335.68 310.52,331.85 312.20,330.06 313.75,330.42 315.55,331.85 317.94,332.09 319.37,332.81 320.57,335.44 322.12,338.07 323.32,338.79 324.51,336.04 325.35,331.85 326.91,331.26 328.70,331.61 330.49,330.66 332.29,329.22 334.68,328.27 337.07,327.67 339.46,327.31 342.45,327.43 344.25,328.27 346.04,330.90 347.83,333.65 350.22,336.64 352.62,339.63 355.61,343.21" fill="none" stroke="#F47F20" stroke-width="1.75" stroke-linejoin="round" stroke-linecap="round"/>
<polyline points="356.58,335.20 358.13,336.04 359.57,334.25 361.36,332.09 363.15,331.26 364.59,328.27 366.14,324.44 367.70,323.72 369.73,325.28 371.52,327.07 373.32,330.06 375.11,332.45 377.50,333.05 380.49,333.29 383.48,333.29 385.87,332.81 388.27,331.85 390.42,331.61 391.85,333.29 393.65,336.04 395.44,339.03 397.23,342.62 399.03,343.21 401.42,343.81 403.81,344.05 406.20,344.41 408.83,345.01" fill="none" stroke="#F6EA2C" stroke-width="1.75" stroke-linejoin="round" stroke-linecap="round"/>
<polyline points="409.54,335.20 411.58,333.65 413.61,332.81 415.16,333.65 416.96,335.44 418.75,336.88 421.14,336.88 423.54,337.00 425.33,337.59 427.72,337.23 430.11,335.20 431.55,331.85 433.10,328.86 435.49,327.31 438.48,326.83 440.87,325.87 443.27,324.68 445.66,323.48 448.05,322.88 450.44,322.05 452.59,321.33 454.27,322.53 455.82,324.08 457.62,325.64 459.41,327.07" fill="none" stroke="#A65628" stroke-width="1.75" stroke-linejoin="round" stroke-linecap="round"/>
<polyline points="459.54,354.57 460.98,353.98 462.77,352.18 464.57,349.79 466.96,347.40 469.35,345.25 471.74,344.77 475.33,344.77 478.92,345.01 482.50,345.25 484.90,344.77 487.29,344.05 489.08,344.77 490.87,346.44 493.27,348.36 495.66,348.83 498.05,348.36 499.25,346.20 499.84,340.22 501.04,339.03 502.83,339.27 504.63,339.99 507.38,340.82" fill="none" stroke="#EE7EB9" stroke-width="1.75" stroke-linejoin="round" stroke-linecap="round"/>
<polyline points="507.63,343.21 509.78,342.62 512.17,343.57 514.57,345.01 516.96,345.61 519.35,344.41 521.74,342.62 524.13,341.66 526.52,342.38 528.92,342.62 530.71,341.18 532.50,338.43 534.30,335.44 536.09,334.25 537.88,336.04 539.68,337.83 541.47,339.03 543.27,338.43 545.06,337.83 546.61,336.64" fill="none" stroke="#999999" stroke-width="1.75" stroke-linejoin="round" stroke-linecap="round"/>
<polyline points="546.85,335.20 548.65,335.20 550.44,336.04 552.23,337.83 554.03,338.43 556.42,338.43 558.81,338.07 561.80,338.07 564.79,338.19 567.18,338.43 568.98,339.99 570.77,342.62 572.56,344.05 573.76,343.57 574.96,341.42 576.15,337.83 577.35,334.25 579.14,331.26 581.53,329.46 583.92,328.27 585.00,328.03" fill="none" stroke="#E41A1C" stroke-width="1.75" stroke-linejoin="round" stroke-linecap="round"/>
<polyline points="585.71,339.03 587.50,337.23 588.70,334.25 589.90,330.66 591.33,327.07 592.88,325.64 595.28,325.28 597.67,324.08 600.06,322.53 602.09,321.33 604.01,321.69 606.04,322.53 607.83,321.69 610.22,319.90 612.02,319.30 613.81,319.90 615.25,319.66 616.20,316.31 617.40,312.72 618.59,307.34 619.79,303.15 621.58,298.97 623.38,298.13 625.17,300.76 626.37,305.55 627.56,311.52 628.76,318.10 630.55,321.69 632.35,323.24 633.90,323.72 635.34,324.08" fill="none" stroke="#377EB8" stroke-width="1.75" stroke-linejoin="round" stroke-linecap="round"/>
<polyline points="635.34,343.61 636.78,341.69 638.33,340.02 640.13,339.06 641.92,340.02 644.32,341.45 646.35,343.25 647.91,345.64 649.70,348.63 651.50,350.43 653.89,351.62 656.88,351.98 659.87,351.03 662.26,349.59 664.66,348.63 666.69,349.23 668.61,351.26 670.64,352.82 672.44,351.26 674.23,348.63 675.43,346.24 676.26,342.65 677.22,338.82 679.02,338.10 681.41,338.46" fill="none" stroke="#4DAF4A" stroke-width="1.75" stroke-linejoin="round" stroke-linecap="round"/>
<line x1="49.4" y1="289.4" x2="49.4" y2="393.90000000000003" stroke="#222" stroke-width="1.1"/>
<line x1="48.9" y1="393.3" x2="682.7" y2="393.3" stroke="#333" stroke-width="1.2"/>
<line x1="46.8" y1="389.94" x2="49.4" y2="389.94" stroke="#222" stroke-width="1"/>
<text transform="translate(45.199999999999996,393.19) scale(1,1.12)" font-size="8.3" text-anchor="end" fill="#333">-0.8</text>
<line x1="46.8" y1="377.78" x2="49.4" y2="377.78" stroke="#222" stroke-width="1"/>
<text transform="translate(45.199999999999996,381.03) scale(1,1.12)" font-size="8.3" text-anchor="end" fill="#333">-0.6</text>
<line x1="46.8" y1="365.62" x2="49.4" y2="365.62" stroke="#222" stroke-width="1"/>
<text transform="translate(45.199999999999996,368.87) scale(1,1.12)" font-size="8.3" text-anchor="end" fill="#333">-0.4</text>
<line x1="46.8" y1="353.46" x2="49.4" y2="353.46" stroke="#222" stroke-width="1"/>
<text transform="translate(45.199999999999996,356.71) scale(1,1.12)" font-size="8.3" text-anchor="end" fill="#333">-0.2</text>
<line x1="46.8" y1="341.30" x2="49.4" y2="341.30" stroke="#222" stroke-width="1"/>
<text transform="translate(45.199999999999996,344.55) scale(1,1.12)" font-size="8.3" text-anchor="end" fill="#333">0.0</text>
<line x1="46.8" y1="329.14" x2="49.4" y2="329.14" stroke="#222" stroke-width="1"/>
<text transform="translate(45.199999999999996,332.39) scale(1,1.12)" font-size="8.3" text-anchor="end" fill="#333">0.2</text>
<line x1="46.8" y1="316.98" x2="49.4" y2="316.98" stroke="#222" stroke-width="1"/>
<text transform="translate(45.199999999999996,320.23) scale(1,1.12)" font-size="8.3" text-anchor="end" fill="#333">0.4</text>
<line x1="46.8" y1="304.82" x2="49.4" y2="304.82" stroke="#222" stroke-width="1"/>
<text transform="translate(45.199999999999996,308.07) scale(1,1.12)" font-size="8.3" text-anchor="end" fill="#333">0.6</text>
<line x1="46.8" y1="292.66" x2="49.4" y2="292.66" stroke="#222" stroke-width="1"/>
<text transform="translate(45.199999999999996,295.91) scale(1,1.12)" font-size="8.3" text-anchor="end" fill="#333">0.8</text>
<text transform="translate(85.45,408.20) scale(1,1.07)" font-size="10.2" text-anchor="middle" fill="#222">Chr1</text>
<text transform="translate(152.50,408.20) scale(1,1.07)" font-size="10.2" text-anchor="middle" fill="#222">Chr2</text>
<text transform="translate(213.85,408.20) scale(1,1.07)" font-size="10.2" text-anchor="middle" fill="#222">Chr3</text>
<text transform="translate(274.85,408.20) scale(1,1.07)" font-size="10.2" text-anchor="middle" fill="#222">Chr4</text>
<text transform="translate(330.30,408.20) scale(1,1.07)" font-size="10.2" text-anchor="middle" fill="#222">Chr5</text>
<text transform="translate(382.30,408.20) scale(1,1.07)" font-size="10.2" text-anchor="middle" fill="#222">Chr6</text>
<text transform="translate(433.85,408.20) scale(1,1.07)" font-size="10.2" text-anchor="middle" fill="#222">Chr7</text>
<text transform="translate(482.90,408.20) scale(1,1.07)" font-size="10.2" text-anchor="middle" fill="#222">Chr8</text>
<text transform="translate(526.50,408.20) scale(1,1.07)" font-size="10.2" text-anchor="middle" fill="#222">Chr9</text>
<text transform="translate(565.80,408.20) scale(1,1.07)" font-size="10.2" text-anchor="middle" fill="#222">Chr10</text>
<text transform="translate(610.15,408.20) scale(1,1.07)" font-size="10.2" text-anchor="middle" fill="#222">Chr11</text>
<text transform="translate(658.40,408.20) scale(1,1.07)" font-size="10.2" text-anchor="middle" fill="#222">Chr12</text>
<text transform="translate(26.4,345.1) rotate(-90)" x="0" y="0" font-size="10.65" text-anchor="middle" fill="#222">Δ (SNP-index)</text>
<text transform="translate(1.3,283.3) scale(0.98,1)" font-size="17" font-weight="bold" fill="#000">C</text>
<line x1="585.6" y1="397.1" x2="158.2" y2="466.6" stroke="#9A9A9A" stroke-width="1" stroke-dasharray="3.5,3"/>
<line x1="634.2" y1="396.2" x2="580.3" y2="466.3" stroke="#9A9A9A" stroke-width="1" stroke-dasharray="4,2.5"/>
<text transform="translate(1.5,442.2) scale(0.98,1)" font-size="17" font-weight="bold" fill="#000">D</text>
<line x1="153.3" y1="521.0" x2="583" y2="521.0" stroke="#8A8A8A" stroke-width="1.45" stroke-dasharray="1.5,1.75"/>
<line x1="153.3" y1="637.3" x2="583" y2="637.3" stroke="#8A8A8A" stroke-width="1.45" stroke-dasharray="1.5,1.75"/>
<line x1="153.3" y1="756.1" x2="583" y2="756.1" stroke="#333" stroke-width="1.45" stroke-dasharray="1.5,1.75"/>
<polyline points="153.53,713.17 158.03,714.13 162.85,714.45 167.66,714.45 172.48,714.45 176.50,714.29 180.51,713.65 185.33,712.85 190.15,711.88 194.96,711.24 199.78,710.60 204.60,710.44 310.40,710.44 314.42,712.04 319.23,714.45 324.05,714.77 328.87,714.45 333.69,714.13 338.50,713.65 343.32,712.36 347.34,711.24 350.55,710.44 388.91,710.44 395.33,710.92 401.75,711.24 408.18,712.53 414.60,713.17 421.02,712.04 427.45,711.56 433.87,710.92 440.29,710.28 497.96,710.50 501.75,711.26 509.34,712.39 516.93,712.39 524.53,713.15 532.12,711.82 539.71,710.88 543.50,711.26 549.20,713.15 554.89,714.67 562.48,715.81 566.28,717.14 570.07,719.42 577.66,719.42 584.88,719.42" fill="none" stroke="#B0B0B0" stroke-width="0.9"/>
<polyline points="153.53,798.63 158.03,797.67 162.85,797.35 167.66,797.35 172.48,797.35 176.50,797.51 180.51,798.15 185.33,798.95 190.15,799.92 194.96,800.56 199.78,801.20 204.60,801.36 310.40,801.36 314.42,799.76 319.23,797.35 324.05,797.03 328.87,797.35 333.69,797.67 338.50,798.15 343.32,799.44 347.34,800.56 350.55,801.36 388.91,801.36 395.33,800.88 401.75,800.56 408.18,799.27 414.60,798.63 421.02,799.76 427.45,800.24 433.87,800.88 440.29,801.52 497.96,801.30 501.75,800.54 509.34,799.41 516.93,799.41 524.53,798.65 532.12,799.98 539.71,800.92 543.50,800.54 549.20,798.65 554.89,797.13 562.48,795.99 566.28,794.66 570.07,792.38 577.66,792.38 584.88,792.38" fill="none" stroke="#B0B0B0" stroke-width="0.9"/>
<polyline points="153.53,505.74 156.42,502.85 159.64,500.92 162.85,501.72 166.06,502.85 169.27,503.17 171.68,502.85 174.09,502.36 176.50,502.85 179.71,503.49 183.72,503.49 187.74,503.33 191.75,503.17 194.16,502.20 196.57,500.76 198.98,499.31 201.39,498.67 204.60,498.51 207.81,497.71 211.82,497.23 215.04,497.55 218.25,497.87 221.46,498.19 224.67,498.99 227.08,499.96 229.49,501.08 232.70,501.24 235.91,501.56 239.12,502.04 242.34,502.53 246.35,502.69 249.56,502.85 253.58,502.69 256.79,502.85 258.21,503.17 262.23,504.77 266.24,505.26 272.66,505.74 277.48,504.45 282.30,503.65 287.12,502.53 291.93,501.24 296.75,500.92 301.57,501.24 306.39,501.56 310.40,501.24 314.42,502.20 318.43,503.49 322.45,504.13 326.46,504.45 330.47,503.81 335.29,503.17 340.11,502.85 344.93,502.04 349.74,501.24 354.56,500.60 359.38,500.76 364.82,500.99 371.24,500.83 376.06,501.80 381.68,502.92 387.30,502.44 392.92,501.31 398.54,500.83 403.36,500.51 407.37,499.71 411.39,497.30 417.01,494.89 421.82,492.96 425.84,492.80 430.66,493.28 433.87,490.88 437.08,488.79 441.09,487.66 445.11,486.06 449.93,484.77 454.74,482.85 459.56,481.24 463.58,480.92 463.80,480.50 467.59,478.98 471.39,477.46 476.13,477.08 480.88,476.70 485.62,475.56 489.42,475.18 493.21,474.23 497.01,475.18 500.80,476.70 505.55,478.41 509.34,480.50 512.19,482.39 515.99,485.62 519.78,488.47 523.58,492.26 527.37,493.78 531.17,497.01 535.91,498.53 540.66,499.47 545.40,500.80 550.15,502.51 554.89,502.13 559.64,502.51 565.33,503.27 570.07,502.51 573.87,502.70 577.66,500.42 580.51,498.91 581.46,496.06 583.36,495.49 584.31,496.44 584.88,497.96" fill="none" stroke="#E8262B" stroke-width="1.1" stroke-linejoin="round"/>
<polyline points="153.53,626.38 156.42,625.26 159.64,623.65 163.65,623.33 167.66,623.17 170.88,623.49 174.09,624.13 176.50,626.06 178.91,628.95 182.12,631.36 185.33,633.77 188.54,637.30 191.75,640.83 194.96,642.76 198.18,644.04 202.99,645.17 207.01,645.01 211.02,644.69 215.04,645.17 218.25,644.53 221.46,643.56 225.47,643.40 229.49,643.72 233.50,644.85 237.52,645.97 241.53,647.26 245.55,648.06 249.56,649.18 253.58,650.15 258.21,652.12 262.23,653.08 266.24,653.24 270.26,653.40 274.27,654.04 278.28,655.33 282.30,656.29 286.31,656.45 291.13,655.97 295.95,655.81 300.77,655.65 304.78,655.01 309.60,654.36 314.42,653.40 319.23,653.40 324.05,653.08 328.07,653.24 332.08,653.40 336.90,653.24 341.72,653.56 344.93,654.04 349.74,654.36 353.76,655.01 357.77,656.13 365.62,656.93 371.24,657.90 377.66,659.02 384.89,660.15 389.71,658.54 394.53,656.61 398.54,654.04 402.55,652.44 406.57,651.47 408.98,648.91 411.39,644.89 413.80,645.37 415.40,644.89 417.81,648.10 420.22,652.12 422.63,656.93 425.84,659.34 429.05,661.75 433.07,663.68 436.28,665.77 440.29,669.78 445.11,670.91 449.93,672.19 455.55,672.99 460.36,673.80 465.18,674.60 465.69,674.09 471.39,673.90 477.08,673.52 482.77,673.14 488.47,672.76 493.21,670.29 497.96,668.96 502.70,667.45 507.45,665.93 511.24,664.22 515.04,661.37 519.78,658.91 523.58,657.96 527.37,655.68 531.17,654.16 535.91,653.21 540.66,652.64 545.40,653.21 550.15,652.64 554.89,651.50 559.64,650.74 564.38,650.93 569.12,650.36 573.87,649.99 577.66,649.61 579.94,649.42 581.46,646.57 582.98,647.52 584.88,648.47" fill="none" stroke="#E8262B" stroke-width="1.1" stroke-linejoin="round"/>
<polyline points="153.53,753.80 158.03,752.99 162.85,752.19 167.66,751.07 172.48,749.78 177.30,748.18 182.12,746.25 186.93,744.16 191.75,742.07 196.57,740.47 201.39,739.18 206.20,738.54 211.02,737.90 215.84,737.58 220.66,737.74 225.47,737.90 230.29,737.90 235.11,737.74 239.93,737.58 244.74,736.93 249.56,736.29 254.38,735.81 261.42,735.33 267.85,734.53 274.27,733.72 280.69,732.92 287.12,732.28 293.54,731.80 299.96,731.96 306.39,732.12 311.20,732.44 316.02,733.08 320.84,733.56 325.66,733.88 330.47,733.88 335.29,733.72 340.11,733.24 344.93,732.60 351.35,731.80 357.77,730.83 366.42,730.51 372.85,730.03 379.27,730.03 385.69,730.35 392.12,730.67 398.54,731.31 402.55,731.47 406.57,730.83 411.39,730.19 416.20,727.30 421.82,724.09 425.84,722.96 430.66,721.36 435.47,717.66 440.29,715.26 445.11,712.85 449.93,710.44 454.74,708.83 459.56,707.71 460.00,708.22 465.69,706.70 471.39,705.56 477.08,705.18 482.77,705.18 488.47,705.94 494.16,707.46 499.85,709.93 505.55,711.82 511.24,713.72 516.93,717.52 522.63,721.31 528.32,725.68 534.01,729.28 539.71,731.75 545.40,733.27 551.09,734.22 556.79,734.79 562.48,734.98 568.18,735.17 573.87,735.36 579.56,735.55 584.88,735.55" fill="none" stroke="#E8262B" stroke-width="1.3" stroke-linejoin="round"/>
<line x1="455.6" y1="467.0" x2="455.6" y2="816" stroke="#29A8E0" stroke-width="1.7" stroke-dasharray="5.3,4.75"/>
<line x1="511.7" y1="467.0" x2="511.7" y2="816" stroke="#29A8E0" stroke-width="1.7" stroke-dasharray="5.3,4.75"/>
<defs><clipPath id="cs"><rect x="100" y="440" width="60" height="141.5"/></clipPath><clipPath id="cr"><rect x="100" y="581.5" width="60" height="112.5"/></clipPath><clipPath id="cd"><rect x="100" y="694" width="60" height="130"/></clipPath></defs>
<line x1="153.3" y1="463.1" x2="153.3" y2="578.5" stroke="#333" stroke-width="1"/>
<g clip-path="url(#cs)">
<line x1="151.10000000000002" y1="578.50" x2="153.3" y2="578.50" stroke="#333" stroke-width="0.9"/>
<text x="150.0" y="580.80" font-size="6.6" text-anchor="end" fill="#333">0.0</text>
<line x1="151.10000000000002" y1="555.42" x2="153.3" y2="555.42" stroke="#333" stroke-width="0.9"/>
<text x="150.0" y="557.72" font-size="6.6" text-anchor="end" fill="#333">0.2</text>
<line x1="151.10000000000002" y1="532.34" x2="153.3" y2="532.34" stroke="#333" stroke-width="0.9"/>
<text x="150.0" y="534.64" font-size="6.6" text-anchor="end" fill="#333">0.4</text>
<line x1="151.10000000000002" y1="509.26" x2="153.3" y2="509.26" stroke="#333" stroke-width="0.9"/>
<text x="150.0" y="511.56" font-size="6.6" text-anchor="end" fill="#333">0.6</text>
<line x1="151.10000000000002" y1="486.18" x2="153.3" y2="486.18" stroke="#333" stroke-width="0.9"/>
<text x="150.0" y="488.48" font-size="6.6" text-anchor="end" fill="#333">0.8</text>
<line x1="151.10000000000002" y1="463.10" x2="153.3" y2="463.10" stroke="#333" stroke-width="0.9"/>
<text x="150.0" y="465.40" font-size="6.6" text-anchor="end" fill="#333">1.0</text>
</g>
<line x1="153.3" y1="584.3" x2="153.3" y2="690.5" stroke="#333" stroke-width="1"/>
<g clip-path="url(#cr)">
<line x1="151.10000000000002" y1="690.50" x2="153.3" y2="690.50" stroke="#333" stroke-width="0.9"/>
<text x="150.0" y="692.80" font-size="6.6" text-anchor="end" fill="#333">0.0</text>
<line x1="151.10000000000002" y1="669.26" x2="153.3" y2="669.26" stroke="#333" stroke-width="0.9"/>
<text x="150.0" y="671.56" font-size="6.6" text-anchor="end" fill="#333">0.2</text>
<line x1="151.10000000000002" y1="648.02" x2="153.3" y2="648.02" stroke="#333" stroke-width="0.9"/>
<text x="150.0" y="650.32" font-size="6.6" text-anchor="end" fill="#333">0.4</text>
<line x1="151.10000000000002" y1="626.78" x2="153.3" y2="626.78" stroke="#333" stroke-width="0.9"/>
<text x="150.0" y="629.08" font-size="6.6" text-anchor="end" fill="#333">0.6</text>
<line x1="151.10000000000002" y1="605.54" x2="153.3" y2="605.54" stroke="#333" stroke-width="0.9"/>
<text x="150.0" y="607.84" font-size="6.6" text-anchor="end" fill="#333">0.8</text>
<line x1="151.10000000000002" y1="584.30" x2="153.3" y2="584.30" stroke="#333" stroke-width="0.9"/>
<text x="150.0" y="586.60" font-size="6.6" text-anchor="end" fill="#333">1.0</text>
</g>
<line x1="153.3" y1="695.2" x2="153.3" y2="816.3" stroke="#333" stroke-width="1"/>
<g clip-path="url(#cd)">
<line x1="151.10000000000002" y1="812.70" x2="153.3" y2="812.70" stroke="#333" stroke-width="0.9"/>
<text x="150.0" y="815.40" font-size="6.6" text-anchor="end" fill="#333">-0.8</text>
<line x1="151.10000000000002" y1="798.50" x2="153.3" y2="798.50" stroke="#333" stroke-width="0.9"/>
<text x="150.0" y="801.20" font-size="6.6" text-anchor="end" fill="#333">-0.6</text>
<line x1="151.10000000000002" y1="784.30" x2="153.3" y2="784.30" stroke="#333" stroke-width="0.9"/>
<text x="150.0" y="787.00" font-size="6.6" text-anchor="end" fill="#333">-0.4</text>
<line x1="151.10000000000002" y1="770.10" x2="153.3" y2="770.10" stroke="#333" stroke-width="0.9"/>
<text x="150.0" y="772.80" font-size="6.6" text-anchor="end" fill="#333">-0.2</text>
<line x1="151.10000000000002" y1="755.90" x2="153.3" y2="755.90" stroke="#333" stroke-width="0.9"/>
<text x="150.0" y="758.60" font-size="6.6" text-anchor="end" fill="#333">0.0</text>
<line x1="151.10000000000002" y1="741.70" x2="153.3" y2="741.70" stroke="#333" stroke-width="0.9"/>
<text x="150.0" y="744.40" font-size="6.6" text-anchor="end" fill="#333">0.2</text>
<line x1="151.10000000000002" y1="727.50" x2="153.3" y2="727.50" stroke="#333" stroke-width="0.9"/>
<text x="150.0" y="730.20" font-size="6.6" text-anchor="end" fill="#333">0.4</text>
<line x1="151.10000000000002" y1="713.30" x2="153.3" y2="713.30" stroke="#333" stroke-width="0.9"/>
<text x="150.0" y="716.00" font-size="6.6" text-anchor="end" fill="#333">0.6</text>
<line x1="151.10000000000002" y1="699.10" x2="153.3" y2="699.10" stroke="#333" stroke-width="0.9"/>
<text x="150.0" y="701.80" font-size="6.6" text-anchor="end" fill="#333">0.8</text>
</g>
<line x1="152.8" y1="816.3" x2="585.0" y2="816.3" stroke="#444" stroke-width="1.3"/>
<line x1="153.10" y1="816.3" x2="153.10" y2="819.3" stroke="#444" stroke-width="0.9"/>
<text x="153.10" y="825.0" font-size="6.6" text-anchor="middle" fill="#333">0</text>
<line x1="182.86" y1="816.3" x2="182.86" y2="819.3" stroke="#444" stroke-width="0.9"/>
<text x="182.86" y="825.0" font-size="6.6" text-anchor="middle" fill="#333">2</text>
<line x1="212.62" y1="816.3" x2="212.62" y2="819.3" stroke="#444" stroke-width="0.9"/>
<text x="212.62" y="825.0" font-size="6.6" text-anchor="middle" fill="#333">4</text>
<line x1="242.38" y1="816.3" x2="242.38" y2="819.3" stroke="#444" stroke-width="0.9"/>
<text x="242.38" y="825.0" font-size="6.6" text-anchor="middle" fill="#333">6</text>
<line x1="272.14" y1="816.3" x2="272.14" y2="819.3" stroke="#444" stroke-width="0.9"/>
<text x="272.14" y="825.0" font-size="6.6" text-anchor="middle" fill="#333">8</text>
<line x1="301.90" y1="816.3" x2="301.90" y2="819.3" stroke="#444" stroke-width="0.9"/>
<text x="301.90" y="825.0" font-size="6.6" text-anchor="middle" fill="#333">10</text>
<line x1="331.66" y1="816.3" x2="331.66" y2="819.3" stroke="#444" stroke-width="0.9"/>
<text x="331.66" y="825.0" font-size="6.6" text-anchor="middle" fill="#333">12</text>
<line x1="361.42" y1="816.3" x2="361.42" y2="819.3" stroke="#444" stroke-width="0.9"/>
<text x="361.42" y="825.0" font-size="6.6" text-anchor="middle" fill="#333">14</text>
<line x1="391.18" y1="816.3" x2="391.18" y2="819.3" stroke="#444" stroke-width="0.9"/>
<text x="391.18" y="825.0" font-size="6.6" text-anchor="middle" fill="#333">16</text>
<line x1="420.94" y1="816.3" x2="420.94" y2="819.3" stroke="#444" stroke-width="0.9"/>
<text x="420.94" y="825.0" font-size="6.6" text-anchor="middle" fill="#333">18</text>
<line x1="450.70" y1="816.3" x2="450.70" y2="819.3" stroke="#444" stroke-width="0.9"/>
<text x="450.70" y="825.0" font-size="6.6" text-anchor="middle" fill="#333">20</text>
<line x1="480.46" y1="816.3" x2="480.46" y2="819.3" stroke="#444" stroke-width="0.9"/>
<text x="480.46" y="825.0" font-size="6.6" text-anchor="middle" fill="#333">22</text>
<line x1="510.22" y1="816.3" x2="510.22" y2="819.3" stroke="#444" stroke-width="0.9"/>
<text x="510.22" y="825.0" font-size="6.6" text-anchor="middle" fill="#333">24</text>
<line x1="539.98" y1="816.3" x2="539.98" y2="819.3" stroke="#444" stroke-width="0.9"/>
<text x="539.98" y="825.0" font-size="6.6" text-anchor="middle" fill="#333">26</text>
<line x1="569.74" y1="816.3" x2="569.74" y2="819.3" stroke="#444" stroke-width="0.9"/>
<text x="569.74" y="825.0" font-size="6.6" text-anchor="middle" fill="#333">28</text>
<text x="315.2" y="832" font-size="9.05" fill="#222">Chromosome position(Mb)</text>
<text x="354.6" y="459.6" font-size="10" font-weight="bold" fill="#000">Chr11</text>
<text transform="translate(133.2,517.3) rotate(-90)" font-size="10.6" text-anchor="middle" fill="#222">SNP-index (S-pool)</text>
<text transform="translate(133.2,632.8) rotate(-90)" font-size="10.6" text-anchor="middle" fill="#222">SNP-index (R-pool)</text>
<text transform="translate(133.2,753.9) rotate(-90)" font-size="10.9" text-anchor="middle" fill="#222">Δ (SNP-index)</text>
</svg></body></html>
